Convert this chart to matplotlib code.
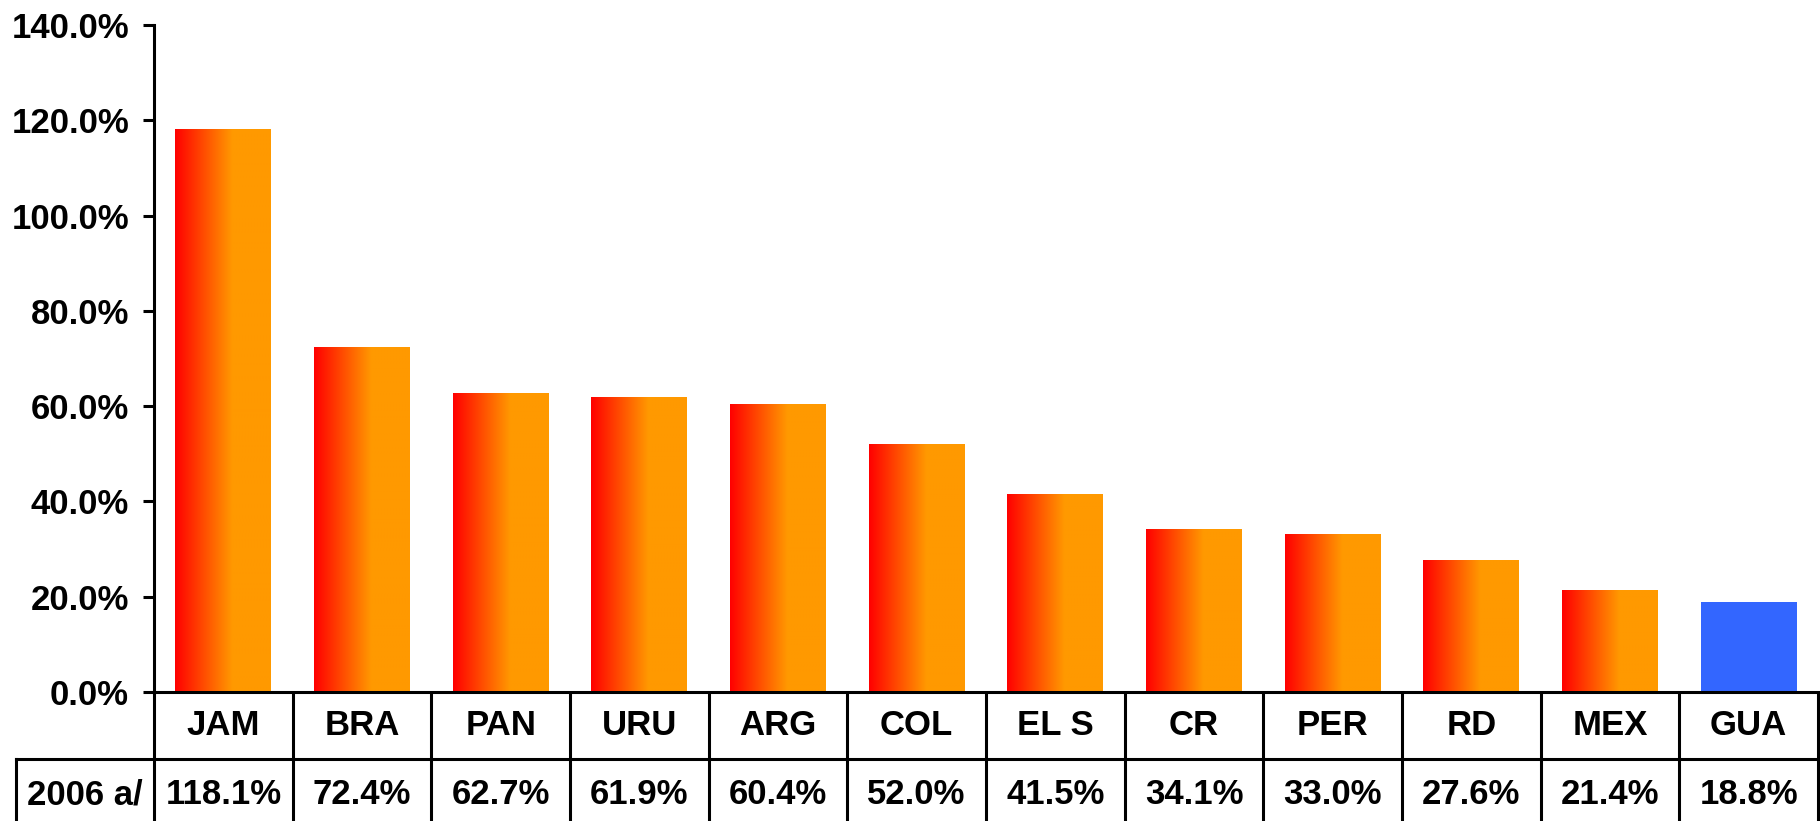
import matplotlib.pyplot as plt
import numpy as np
from matplotlib.colors import LinearSegmentedColormap
from matplotlib.ticker import FuncFormatter

# Data
countries = ["JAM", "BRA", "PAN", "URU", "ARG", "COL", "EL S", "CR", "PER", "RD", "MEX", "GUA"]
values_2006 = [118.1, 72.4, 62.7, 61.9, 60.4, 52.0, 41.5, 34.1, 33.0, 27.6, 21.4, 18.8]
row_label = "2006 a/"
highlight = "GUA"

plt.rcParams['font.family'] = ['Liberation Sans', 'DejaVu Sans']

fig = plt.figure(figsize=(18.2, 8.21), dpi=100)
W, H = 1820, 821
ax = fig.add_axes([154 / W, 1 - 692 / H, (1818 - 154) / W, (692 - 25) / H])

# red -> orange gradient, flat orange on the right side
grad_cmap = LinearSegmentedColormap.from_list(
    "ro", [(0, "#ff0000"), (0.6, "#ff9900"), (1, "#ff9900")])
grad = np.linspace(0, 1, 256).reshape(1, -1)

bar_w = 0.69
x = np.arange(len(countries))
for xi, name, v in zip(x, countries, values_2006):
    if name == highlight:
        ax.bar(xi, v, width=bar_w, color="#3366ff", zorder=2)
    else:
        ax.imshow(grad, cmap=grad_cmap, aspect="auto", zorder=2,
                  extent=(xi - bar_w / 2, xi + bar_w / 2, 0, v))

ax.set_xlim(-0.5, len(countries) - 0.5)
ax.set_ylim(0, 140)
ax.set_yticks(np.arange(0, 141, 20))
ax.yaxis.set_major_formatter(FuncFormatter(lambda v, p: f"{v:.1f}%"))
ax.set_xticks([])
for s in ["top", "right"]:
    ax.spines[s].set_visible(False)
ax.spines["left"].set_linewidth(2.2)
ax.spines["bottom"].set_linewidth(2.2)
ax.tick_params(axis="y", direction="out", length=8, width=2.2, pad=10,
               labelsize=25)
for lab in ax.get_yticklabels():
    lab.set_fontweight("bold")

# table under the axis
tr = ax.get_xaxis_transform()
row_mid1, row_line, row_mid2, bottom = -0.050, -0.1004, -0.1544, -0.2
lw = 2.2
for k in range(len(countries) + 1):
    ax.plot([k - 0.5, k - 0.5], [0, bottom], color="black", lw=lw,
            transform=tr, clip_on=False, solid_capstyle="butt")
ax.plot([-1.495, len(countries) - 0.5], [row_line, row_line], color="black",
        lw=lw, transform=tr, clip_on=False)
ax.plot([-1.495, -1.495], [row_line, bottom], color="black", lw=lw,
        transform=tr, clip_on=False)

for xi, name, v in zip(x, countries, values_2006):
    ax.text(xi, row_mid1, name, transform=tr, ha="center", va="center",
            fontsize=25, fontweight="bold")
    ax.text(xi, row_mid2, f"{v:.1f}%", transform=tr, ha="center", va="center",
            fontsize=25, fontweight="bold")
ax.text(-1.0, row_mid2, row_label, transform=tr, ha="center", va="center",
        fontsize=25, fontweight="bold")

plt.savefig("out.png", dpi=100)
